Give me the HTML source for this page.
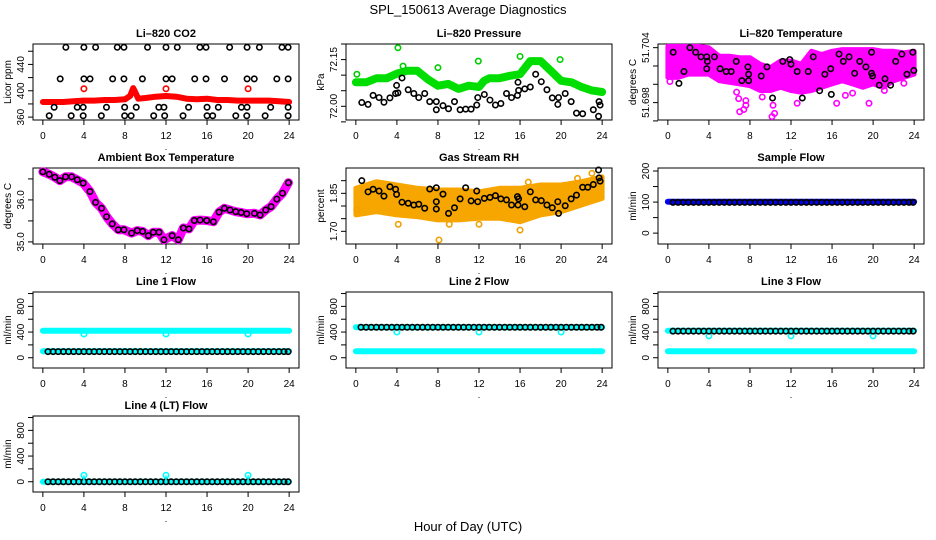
<!DOCTYPE html>
<html><head><meta charset="utf-8"><title>SPL_150613 Average Diagnostics</title>
<style>
html,body{margin:0;padding:0;background:#fff;}
svg{display:block;font-family:"Liberation Sans",Arial,sans-serif;}
</style></head>
<body>
<svg id="chart" width="936" height="540" viewBox="0 0 936 540" xmlns="http://www.w3.org/2000/svg">
<rect x="0" y="0" width="936" height="540" fill="#fff"/>
<text x="468" y="14" text-anchor="middle" font-size="13">SPL_150613  Average Diagnostics</text>
<text x="468" y="531" text-anchor="middle" font-size="13">Hour of Day (UTC)</text>
</svg>
<script>
// ---------- data ----------
const H48 = [0.5,1,1.5,2,2.5,3,3.5,4,4.5,5,5.5,6,6.5,7,7.5,8,8.5,9,9.5,10,10.5,11,11.5,12,12.5,13,13.5,14,14.5,15,15.5,16,16.5,17,17.5,18,18.5,19,19.5,20,20.5,21,21.5,22,22.5,23,23.5,23.9];
const bandHours = [0,24];
const dipHours = [4,12,20];

// CO2
const co2Hi1H = [2.24,4.0,5.14,7.25,7.9,10.2,12.0,13.1,15.3,15.9,18.2,19.9,21.1,23.3,23.9];
const co2Hi2H = [1.69,4.0,4.6,6.8,7.9,9.7,12.0,12.6,14.8,15.9,17.7,19.9,20.6,22.8,23.9];
const co2Lo1H = [1.1,3.35,3.93,6.2,7.97,9.1,11.3,11.8,14.2,16.0,17.1,19.35,19.9,22.2,23.9];
const co2Lo2H = [0.62,2.76,3.93,5.7,7.97,8.6,10.8,11.87,13.66,16.0,16.55,18.8,19.87,21.66,23.9];
const co2Levels = [466,418,375,362];
const co2RedH = [0,1,2,3,4,5,6,7,8,8.5,8.8,9,9.3,10,11,12,13,14,15,16,17,18,19,20,21,22,23,24];
const co2RedV = [383,383,383,384,385,385,386,386,387,392,404,398,388,389,391,392,391,388,387,388,386,386,385,385,385,385,384,383];
const co2RedPtsV = [403,403,403];

// Pressure
const presBandH = [0,1,2,3,4,5,6,7,8,9,10,11,12,12.5,13,14,15,16,17,18,19,20,21,22,23,24];
const presBandV = [72.077,72.077,72.090,72.090,72.105,72.114,72.114,72.087,72.066,72.072,72.056,72.066,72.062,72.082,72.090,72.090,72.098,72.103,72.145,72.145,72.114,72.082,72.077,72.062,72.051,72.046];
const presGreenH = [0.1,4.1,4.6,8.0,11.93,16.0,19.9];
const presGreenV = [72.103,72.188,72.129,72.124,72.145,72.160,72.150];
const presBlackH = [0.58,1.19,1.68,2.26,2.74,3.32,3.87,3.97,4.1,4.5,5.1,5.65,6.13,6.71,7.2,7.84,7.84,8.49,9.03,9.61,10.16,10.7,11.23,11.78,11.88,12.52,13.07,13.6,14.13,14.68,15.17,15.75,15.8,15.86,16.46,17.0,17.52,18.07,18.62,19.14,19.68,19.75,20.4,20.98,21.5,22.1,23.14,23.65,23.7,23.8];
const presBlackV = [72.012,72.006,72.035,72.028,72.013,72.027,72.041,72.067,72.043,72.091,72.053,72.041,72.028,72.041,72.015,72.015,71.989,72.002,71.992,72.015,71.989,71.991,71.991,72.004,72.028,72.038,72.020,72.004,72.009,72.041,72.028,72.035,72.077,72.051,72.056,72.062,72.103,72.079,72.053,72.027,72.006,72.028,72.041,72.015,71.978,71.976,71.989,71.968,72.015,72.004];

// Li-820 temperature
const tBandH = [0,1,2,3,4,5,6,7,8,9,10,11,12,13,14,15,16,17,18,19,20,21,22,23,24];
const tBandHi = [51.70414,51.70414,51.70414,51.70414,51.70397,51.70307,51.70307,51.70290,51.70290,51.70218,51.70182,51.70254,51.70254,51.70218,51.70360,51.70325,51.70360,51.70379,51.70379,51.70379,51.70379,51.70360,51.70360,51.70343,51.70360];
const tBandLo = [51.70075,51.70075,51.70111,51.70111,51.70111,51.70039,51.70022,51.70004,51.69986,51.69932,51.69932,51.69968,51.69932,51.69914,51.69932,51.69968,51.70004,51.70039,51.70004,51.69968,51.70004,51.69968,51.70039,51.70075,51.70111];
const tMagH = [0.2,1.18,6.7,6.9,7.0,7.4,7.6,7.6,10.15,10.4,10.25,12.6,16.45,19.6,17.3,18.0,21.1,23.0,9.2];
const tMagV = [51.7003,51.70123,51.69914,51.69843,51.69700,51.69725,51.69771,51.69821,51.69647,51.69682,51.69771,51.69793,51.69793,51.69793,51.69879,51.69904,51.69932,51.70011,51.69861];
const tBlackH = [0.52,1.08,1.57,2.15,2.71,3.23,3.79,3.79,3.85,4.54,5.09,5.68,6.17,6.66,7.21,7.8,7.87,7.87,9.1,9.66,10.2,11.2,11.88,12.0,12.6,13.1,13.68,14.17,14.79,15.3,15.87,15.93,16.68,17.1,17.66,18.2,18.7,19.3,19.85,19.85,19.95,20.6,21.16,21.7,22.2,22.8,23.3,23.87,23.97];
const tBlackV = [51.7035,51.7001,51.7014,51.7040,51.7035,51.7030,51.7030,51.7017,51.7025,51.7030,51.7017,51.7014,51.7014,51.7025,51.7004,51.7019,51.7011,51.7004,51.7009,51.7019,51.6985,51.7025,51.7027,51.7022,51.7014,51.6985,51.7014,51.7030,51.6993,51.7011,51.7017,51.6989,51.7033,51.7025,51.7030,51.7012,51.7025,51.7019,51.7035,51.7012,51.7009,51.6999,51.7006,51.6999,51.7025,51.7033,51.7011,51.7035,51.7015];

// Ambient box temperature
const ambH = [0.0,0.62,1.17,1.66,2.21,2.8,3.35,3.93,4.59,5.14,5.72,6.21,6.76,7.35,7.9,8.65,9.2,9.72,10.28,10.76,11.32,11.8,12.6,13.2,13.69,14.24,14.76,15.32,15.97,16.62,17.17,17.69,18.24,18.8,19.32,19.87,20.62,21.17,21.72,22.24,22.8,23.35,23.93];
const ambV = [36.67,36.61,36.54,36.46,36.55,36.55,36.48,36.40,36.20,35.94,35.80,35.60,35.43,35.29,35.29,35.21,35.27,35.25,35.15,35.23,35.23,35.05,35.15,35.05,35.33,35.31,35.51,35.52,35.51,35.48,35.71,35.80,35.76,35.72,35.70,35.67,35.68,35.64,35.76,35.84,36.02,36.16,36.41];

// Gas stream RH
const rhBandH = [0,2,4,6,8,10,12,14,16,18,20,22,24];
const rhBandHi = [1.870,1.896,1.883,1.870,1.863,1.863,1.856,1.870,1.870,1.883,1.883,1.896,1.915];
const rhBandLo = [1.765,1.778,1.765,1.758,1.745,1.745,1.752,1.752,1.738,1.765,1.778,1.804,1.830];
const rhOrH = [8.1,4.13,16.0,12.0,9.1,21.6,23.0,16.8,0.1];
const rhOrV = [1.666,1.728,1.705,1.728,1.728,1.909,1.929,1.894,1.784];
const rhBlackH = [0.58,1.19,1.68,2.26,2.74,3.32,3.87,3.97,4.5,5.1,5.65,6.13,6.71,7.2,7.84,7.84,7.84,8.49,9.03,9.61,10.16,10.7,11.23,11.78,11.88,12.52,13.07,13.6,14.13,14.68,15.17,15.75,15.8,15.86,16.46,17.0,17.52,18.07,18.62,19.14,19.68,19.75,20.4,20.98,21.5,22.1,22.6,23.14,23.65,23.7,23.8];
const rhBlackV = [1.900,1.856,1.866,1.859,1.839,1.876,1.866,1.846,1.815,1.811,1.804,1.807,1.791,1.867,1.872,1.817,1.788,1.847,1.771,1.793,1.828,1.872,1.820,1.859,1.817,1.830,1.834,1.841,1.828,1.824,1.804,1.837,1.804,1.828,1.797,1.856,1.824,1.821,1.804,1.793,1.817,1.771,1.801,1.828,1.843,1.874,1.874,1.885,1.942,1.911,1.898];

// Flows
const sampleBand = [101,101];
const sampleBlack = [99,99,99,99,99,99,99,99,99,99,99,99,99,99,99,99,99,99,99,99,99,99,99,99,99,99,99,99,99,99,99,99,99,99,99,99,99,99,99,99,99,99,99,99,99,99,99,99];
const l1CyanHi = [420,420];
const l1CyanLo = [100,100];
const l1Dips = [370,370,370];
const l1Black = [95,95,95,95,95,95,95,95,95,95,95,95,95,95,95,95,95,95,95,95,95,95,95,95,95,95,95,95,95,95,95,95,95,95,95,95,95,95,95,95,95,95,95,95,95,95,95,95];
const l2CyanHi = [475,475];
const l2CyanLo = [100,100];
const l2Dips = [400,400,400];
const l2Black = [475,475,475,475,475,475,475,475,475,475,475,475,475,475,475,475,475,475,475,475,475,475,475,475,475,475,475,475,475,475,475,475,475,475,475,475,475,475,475,475,475,475,475,475,475,475,475,475];
const l3CyanHi = [420,420];
const l3CyanLo = [100,100];
const l3Dips = [340,340,340];
const l3Black = [415,415,415,415,415,415,415,415,415,415,415,415,415,415,415,415,415,415,415,415,415,415,415,415,415,415,415,415,415,415,415,415,415,415,415,415,415,415,415,415,415,415,415,415,415,415,415,415];
const l4CyanLo = [0,0];
const l4Spikes = [100,100,100];
const l4Black = [0,0,0,0,0,0,0,0,0,0,0,0,0,0,0,0,0,0,0,0,0,0,0,0,0,0,0,0,0,0,0,0,0,0,0,0,0,0,0,0,0,0,0,0,0,0,0,0];
const xTicks = [0,4,8,12,16,20,24];
const flowTicks = [0,200,400,600,800,1000];
const flowLabels = [0,400,800];

// ---------- drawing ----------
const NS = "http://www.w3.org/2000/svg";
const svg = document.getElementById('chart');
const colLeft = [33,346,658], rowTop = [44,168,292,416], BW = 266, BH = 76;

function mk(tag, attrs, parent){
  const e = document.createElementNS(NS, tag);
  for (const k in attrs) e.setAttribute(k, attrs[k]);
  (parent||svg).appendChild(e);
  return e;
}

function panel(o){
  const L = colLeft[o.col], T = rowTop[o.row];
  const g = mk('g', {});
  
  
  const x = h => L + (h + 0.96) / 25.92 * BW;
  const y = v => T + BH - (v - o.ymin) / (o.ymax - o.ymin) * BH;
  const box = mk('rect', {x:L, y:T, width:BW, height:BH, fill:'none', stroke:'#000', 'stroke-width':1}, g);
  
  
  const t = mk('text', {x:L+BW/2, y:T-7, 'text-anchor':'middle', 'font-size':11, 'font-weight':'bold'}, g);
  t.textContent = o.title;
  
  
  // x axis
  xTicks.forEach(h => {
    mk('line', {x1:x(h), x2:x(h), y1:T+BH, y2:T+BH+5, stroke:'#000'}, g);
    if (o.xlabels) {
      const tl = mk('text', {x:x(h), y:T+BH+19, 'text-anchor':'middle', 'font-size':10}, g);
      tl.textContent = h;
      
      
    }
  });
  // y axis
  o.yticks.forEach(v => {
    mk('line', {x1:L, x2:L-5, y1:y(v), y2:y(v), stroke:'#000'}, g);
  });
  o.ylabels.forEach(v => {
    const yl = mk('text', {x:0, y:0, 'text-anchor':'middle', 'font-size':10, transform:`translate(${L-9},${y(v)}) rotate(-90)`}, g);
    yl.textContent = (o.fmt ? o.fmt(v) : v);
    
    
  });
  const yt = mk('text', {x:0, y:0, 'text-anchor':'middle', 'font-size':10, transform:`translate(${L-22},${T+BH/2}) rotate(-90)`}, g);
  yt.textContent = o.ylab;
  
  
  if (o.xlabels) {
    const d = mk('text', {x:L+BW/2, y:T+BH+30, 'text-anchor':'middle', 'font-size':9}, g);
    d.textContent = '.';
    
    
  }
  return {g, x, y};
}

function pts(p, hs, vs, color, name, r){
  hs.forEach((h, i) => {
    const c = mk('circle', {cx:p.x(h), cy:p.y(vs[i]), r:r||2.7, fill:'none', stroke:color, 'stroke-width':1.6}, p.g);
    
    
  });
}
function poly(p, hs, vs, color, w, name){
  const d = hs.map((h,i)=>(i?'L':'M')+p.x(h).toFixed(1)+','+p.y(vs[i]).toFixed(1)).join('');
  const e = mk('path', {d, fill:'none', stroke:color, 'stroke-width':w, 'stroke-linejoin':'round', 'stroke-linecap':'round'}, p.g);
  
  
}
function band(p, hs, lo, hi, color, name){
  let d = hs.map((h,i)=>(i?'L':'M')+p.x(h).toFixed(1)+','+p.y(hi[i]).toFixed(1)).join('');
  for (let i=hs.length-1;i>=0;i--) d += 'L'+p.x(hs[i]).toFixed(1)+','+p.y(lo[i]).toFixed(1);
  const e = mk('path', {d:d+'Z', fill:color, stroke:color, 'stroke-width':5, 'stroke-linejoin':'round'}, p.g);
  
  
}

// Panel 1: CO2
{
  const p = panel({name:'co2-panel', col:0,row:0, ymin:355.6, ymax:471, title:'Li\u2013820 CO2', ylab:'Licor ppm', yticks:[360,380,400,420,440,460], ylabels:[360,400,440], xlabels:true});
  poly(p, co2RedH, co2RedV, '#ff0000', 6, 'co2-red-series');
  pts(p, dipHours, co2RedPtsV, '#ff0000', 'co2-red-point');
  pts(p, co2Hi1H, co2Hi1H.map(()=>co2Levels[0]), '#000', 'co2-black-point');
  pts(p, co2Hi2H, co2Hi2H.map(()=>co2Levels[1]), '#000', 'co2-black-point');
  pts(p, co2Lo1H, co2Lo1H.map(()=>co2Levels[2]), '#000', 'co2-black-point');
  pts(p, co2Lo2H, co2Lo2H.map(()=>co2Levels[3]), '#000', 'co2-black-point');
}
// Panel 2: Pressure
{
  const p = panel({name:'pressure-panel', col:1,row:0, ymin:71.956, ymax:72.2, title:'Li\u2013820 Pressure', ylab:'kPa', yticks:[71.95,72.0,72.05,72.1,72.15,72.2], ylabels:[72.0,72.15], fmt:v=>v.toFixed(2), xlabels:true});
  poly(p, presBandH, presBandV, '#00dd00', 8, 'pressure-green-series');
  pts(p, presGreenH, presGreenV, '#00cc00', 'pressure-green-point');
  pts(p, presBlackH, presBlackV, '#000', 'pressure-black-point');
}
// Panel 3: Li-820 Temperature
{
  const p = panel({name:'li820-temp-panel', col:2,row:0, ymin:51.6961, ymax:51.7044, title:'Li\u2013820 Temperature', ylab:'degrees C', yticks:[51.696,51.698,51.700,51.702,51.704], ylabels:[51.698,51.704], fmt:v=>v.toFixed(3), xlabels:true});
  band(p, tBandH, tBandLo, tBandHi, '#ff00ff', 'li820-temp-magenta-band');
  pts(p, tMagH, tMagV, '#ff00ff', 'li820-temp-magenta-point');
  pts(p, tBlackH, tBlackV, '#000', 'li820-temp-black-point');
}
// Panel 4: Ambient Box Temperature
{
  const p = panel({name:'ambient-temp-panel', col:0,row:1, ymin:34.95, ymax:36.76, title:'Ambient Box Temperature', ylab:'degrees C', yticks:[35.0,35.5,36.0,36.5], ylabels:[35.0,36.0], fmt:v=>v.toFixed(1), xlabels:true});
  poly(p, ambH, ambV, '#ff00ff', 9, 'ambient-magenta-series');
  pts(p, ambH, ambV, '#000', 'ambient-black-point');
}
// Panel 5: Gas Stream RH
{
  const p = panel({name:'rh-panel', col:1,row:1, ymin:1.65, ymax:1.95, title:'Gas Stream RH', ylab:'percent', yticks:[1.70,1.75,1.80,1.85,1.90], ylabels:[1.70,1.85], fmt:v=>v.toFixed(2), xlabels:true});
  band(p, rhBandH, rhBandLo, rhBandHi, '#f7a600', 'rh-orange-band');
  pts(p, rhOrH, rhOrV, '#f0a000', 'rh-orange-point');
  pts(p, rhBlackH, rhBlackV, '#000', 'rh-black-point');
}
// Panel 6: Sample Flow
{
  const p = panel({name:'sample-flow-panel', col:2,row:1, ymin:-35, ymax:209.7, title:'Sample Flow', ylab:'ml/min', yticks:[0,50,100,150,200], ylabels:[0,100,200], xlabels:true});
  poly(p, bandHours, sampleBand, '#0000ee', 6, 'sample-flow-blue-series');
  pts(p, H48, sampleBlack, '#000', 'sample-flow-black-point');
}
// Line flows
function flowPanel(name, col, row, title, hi, lo, dips, black, xlabels){
  const p = panel({name, col, row, ymin:-160, ymax:1024, title, ylab:'ml/min', yticks:flowTicks, ylabels:flowLabels, xlabels});
  if (hi) poly(p, bandHours, hi, '#00ffff', 6, name+'-cyan-upper');
  poly(p, bandHours, lo, '#00ffff', 6, name+'-cyan-lower');
  pts(p, dipHours, dips, '#00ffff', name+'-cyan-outlier');
  pts(p, H48, black, '#000', name+'-black-point');
  return p;
}
flowPanel('line1-flow-panel', 0, 2, 'Line 1 Flow', l1CyanHi, l1CyanLo, l1Dips, l1Black, true);
flowPanel('line2-flow-panel', 1, 2, 'Line 2 Flow', l2CyanHi, l2CyanLo, l2Dips, l2Black, true);
flowPanel('line3-flow-panel', 2, 2, 'Line 3 Flow', l3CyanHi, l3CyanLo, l3Dips, l3Black, true);
{
  const p = flowPanel('line4-flow-panel', 0, 3, 'Line 4 (LT) Flow', null, l4CyanLo, l4Spikes, l4Black, true);
  dipHours.forEach((h,i) => {
    const s = mk('line', {x1:p.x(h), x2:p.x(h), y1:p.y(0), y2:p.y(l4Spikes[i]), stroke:'#00ffff', 'stroke-width':1.5}, p.g);
    
    
  });
}
</script>
</body></html>
